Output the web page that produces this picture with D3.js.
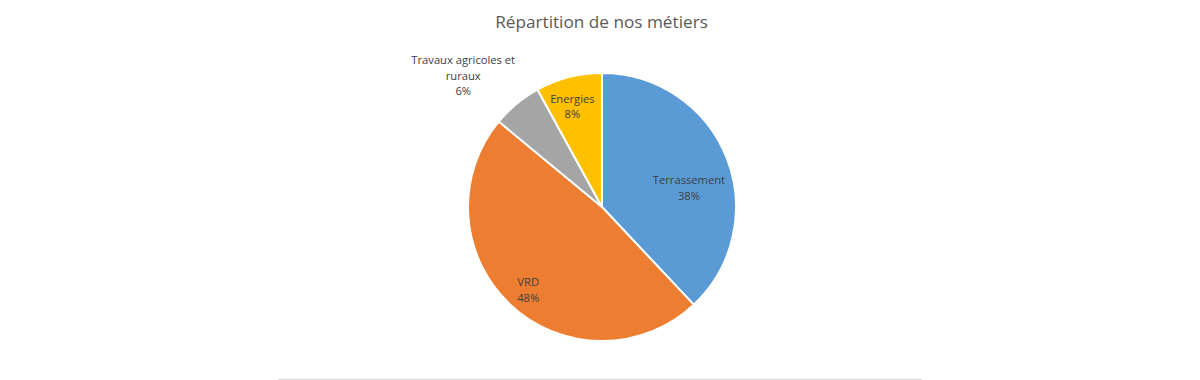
<!DOCTYPE html>
<html><head><meta charset="utf-8">
<script src="https://cdn.jsdelivr.net/npm/d3@7"></script>
<style>body{margin:0;background:#fff;}svg{display:block;font-family:"Open Sans","Noto Sans",sans-serif;}</style>
</head><body>
<script>
const title = "Répartition de nos métiers";
const categories = ["Terrassement", "VRD", "Travaux agricoles et ruraux", "Energies"];
const values = [38, 48, 6, 8];
const colors = ["#5B9BD5", "#ED7D31", "#A5A5A5", "#FFC000"];

const W = 1200, H = 380;
const svg = d3.select("body").append("svg").attr("width", W).attr("height", H);
svg.append("rect").attr("width", W).attr("height", H).attr("fill", "#fff");

svg.append("text").attr("x", 601.5).attr("y", 28).attr("text-anchor", "middle")
  .attr("font-size", 17.2).attr("fill", "#595959").text(title);

const cx = 602, cy = 207, R = 134;
const total = d3.sum(values);
const pie = d3.pie().sort(null).value(d => d.v);
const data = pie(categories.map((c, i) => ({c, v: values[i], i})));
const arc = d3.arc().innerRadius(0).outerRadius(R);
const g = svg.append("g").attr("transform", `translate(${cx},${cy})`);
g.selectAll("path").data(data).join("path")
  .attr("d", arc).attr("fill", d => colors[d.data.i])
  .attr("stroke", "#fff").attr("stroke-width", 2).attr("stroke-linejoin", "round");

// label layout (best-fit style): radius and angle shift per slice index
const layout = [
  {r: 89, da: 9.3, lines: ["Terrassement"]},
  {r: 111, da: -1.5, lines: ["VRD"]},
  {r: 191, da: -7, lines: ["Travaux agricoles et", "ruraux"]},
  {r: 105, da: -2, lines: ["Energies"]}
];
data.forEach(d => {
  const L = layout[d.data.i];
  const mid = (d.startAngle + d.endAngle) / 2 + L.da * Math.PI / 180;
  const x = L.r * Math.sin(mid), y = -L.r * Math.cos(mid);
  const lines = L.lines.concat([Math.round(d.data.v / total * 100) + "%"]);
  const lh = 15.5;
  const t = g.append("text").attr("text-anchor", "middle").attr("font-size", 11.2)
    .attr("fill", "#404040");
  lines.forEach((s, k) => {
    t.append("tspan").attr("x", x).attr("y", y + (k - (lines.length - 1) / 2) * lh + 4).text(s);
  });
});

svg.append("line").attr("x1", 278).attr("x2", 922).attr("y1", 379.5).attr("y2", 379.5)
  .attr("stroke", "#d9d9d9").attr("stroke-width", 1);
</script>
</body></html>
